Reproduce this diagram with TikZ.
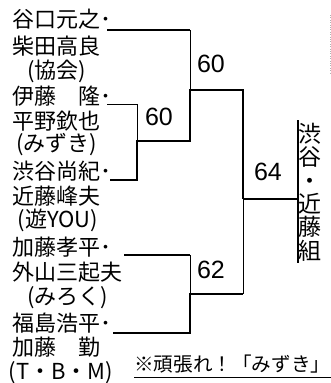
\documentclass[tikz,border=0pt]{standalone}
\usepackage{fontspec}
\setmainfont{Liberation Sans}
\newfontfamily\jp{Noto Sans CJK JP}
\begin{document}
\begin{tikzpicture}[x=1pt,y=-1pt,
  nm/.style={anchor=west,inner sep=0pt,font=\jp\fontsize{22}{22}\selectfont},
  af/.style={inner sep=0pt,font=\jp\fontsize{22}{22}\selectfont},
  sc/.style={inner sep=0pt,font=\fontsize{25}{25}\selectfont},
  ln/.style={line width=0.9pt},
  lm/.style={line width=1.5pt},
  lk/.style={line width=2.3pt,line join=miter}]
\useasboundingbox (0,0) rectangle (331,383);
% names
\node[nm] (n1) at (12,19) {谷口元之･};
\node[nm] (n2) at (12,46) {柴田高良};
\node[af] (a1) at (57,71) {(協会)};
\node[nm] (n3) at (12,96) {伊藤　隆･};
\node[nm] (n4) at (12,121) {平野欽也};
\node[af] (a2) at (57,145) {(みずき)};
\node[nm] (n5) at (12,171) {渋谷尚紀･};
\node[nm] (n6) at (12,196) {近藤峰夫};
\node[af] (a3) at (58,220) {(遊YOU)};
\node[nm] (n7) at (12,247) {加藤孝平･};
\node[nm] (n8) at (12,272) {外山三起夫};
\node[af] (a4) at (68,298) {(みろく)};
\node[nm] (n9) at (12,323) {福島浩平･};
\node[nm] (n10) at (12,347) {加藤　勤};
\node[af] (a5) at (61,373) {(T・B・M)};
% bracket points
\coordinate (l1) at (107,30);  \coordinate (r1) at (190,30);
\coordinate (l2) at (107,104); \coordinate (v2) at (137,104);
\coordinate (l3) at (110,180); \coordinate (v3) at (137,180);
\coordinate (m23) at (137,141); \coordinate (m23r) at (190,141);
\coordinate (m1) at (190,90);  \coordinate (m1r) at (243,90);
\coordinate (f) at (243,199);  \coordinate (fr) at (298,199);
\coordinate (l4) at (124,255); \coordinate (v4) at (190,255);
\coordinate (m45) at (190,294); \coordinate (m45r) at (243,294);
\coordinate (l5) at (113,333); \coordinate (v5) at (190,333);
\coordinate (bt) at (298,120); \coordinate (bb) at (298,263);
% lines
\draw[lk] (l1) -- (r1);
\draw[ln] (r1) -- (m1);
\draw[ln] (l2) -- (v2) -- (m23);
\draw[lk] (l3) -- (v3) -- (m23) -- (m23r) -- (m1) -- (m1r) -- (f);
\draw[lm] (f) -- (fr);
\draw[ln] (f) -- (m45r);
\draw[lm] (l4) -- (v4);
\draw[ln] (v4) -- (m45);
\draw[lk] (l5) -- (v5) -- (m45) -- (m45r);
\draw[lk] (bt) -- (bb);
% scores
\node[sc] (s1) at (211,64) {60};
\node[sc] (s2) at (159,117) {60};
\node[sc] (s3) at (268,172) {64};
\node[sc] (s4) at (211,270) {62};
% winner
\node[inner sep=0pt,align=center,font=\jp\fontsize{23}{23.4}\selectfont] (w) at (310,192) {渋\\谷\\・\\近\\藤\\組};
% note
\node[anchor=west,inner sep=0pt,font=\jp\fontsize{19.6}{20}\selectfont] (note) at (134,364) {※頑張れ！「みずき」};
\coordinate (u1) at (134,377); \coordinate (u2) at (331,377);
\draw[ln] (u1) -- (u2);
% faint edge
\coordinate (e1) at (330,15); \coordinate (e2) at (330,74);
\draw[gray!60,dotted] (e1) -- (e2);
\end{tikzpicture}
\end{document}
